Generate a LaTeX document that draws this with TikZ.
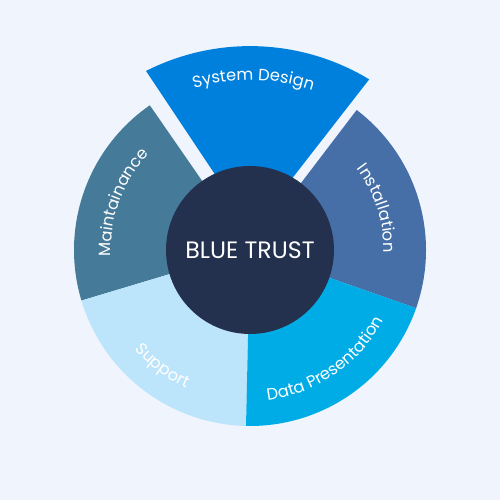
\documentclass[tikz,border=0pt]{standalone}
\usepackage{fontspec}
\setmainfont{Poppins}
\usetikzlibrary{decorations.text}

\definecolor{bgcol}{HTML}{F0F5FD}
\definecolor{designcol}{HTML}{0080DD}
\definecolor{maintcol}{HTML}{467A99}
\definecolor{installcol}{HTML}{466FA8}
\definecolor{datacol}{HTML}{00ACE6}
\definecolor{supportcol}{HTML}{BCE4FA}
\definecolor{hubcol}{HTML}{23314E}

\newcommand\wheellabel{\fontsize{9.3}{11}\selectfont\color{white}}

\tikzset{
  seglabel/.style={decorate,
    decoration={text along path, text align=center, text={|\wheellabel|#1}}},
  hub/.style={circle, fill=hubcol, minimum size=3.36cm, inner sep=0pt,
    text=white, font=\fontsize{13.5}{15}\selectfont},
}

\begin{document}
\begin{tikzpicture}[scale=0.02]
  \useasboundingbox[fill=bgcol] (-250,-250) rectangle (250,250);
  % ring pieces
  \fill[installcol] (0,0) -- (-19.3:176) arc[start angle=-19.3, end angle=52.7, radius=176] -- cycle;
  \fill[maintcol] (0,0) -- (124.7:176) arc[start angle=124.7, end angle=196.7, radius=176] -- cycle;
  \fill[supportcol] (0,0) -- (196.7:176) arc[start angle=196.7, end angle=268.7, radius=176] -- cycle;
  \fill[datacol] (0,0) -- (268.7:176) arc[start angle=268.7, end angle=340.7, radius=176] -- cycle;
  % pulled out piece
  \fill[designcol] (2,20) -- (-104,179) arc[start angle=116.9, end angle=58.8, radius=230] -- cycle;
  \node[hub] (hub) at (0,0) {BLUE TRUST};
  % labels
  \path[seglabel=System Design, shift={(0,-26)}] (134:196) arc[start angle=134, end angle=44, radius=196];
  \path[seglabel=Maintainance] (205:139) arc[start angle=205, end angle=114, radius=139];
  \path[seglabel=Installation] (63:134) arc[start angle=63, end angle=-27, radius=134];
  \path[seglabel=Support] (188:152) arc[start angle=188, end angle=278, radius=152];
  \path[seglabel=Data Presentation] (259:151) arc[start angle=259, end angle=350, radius=151];
\end{tikzpicture}
\end{document}
